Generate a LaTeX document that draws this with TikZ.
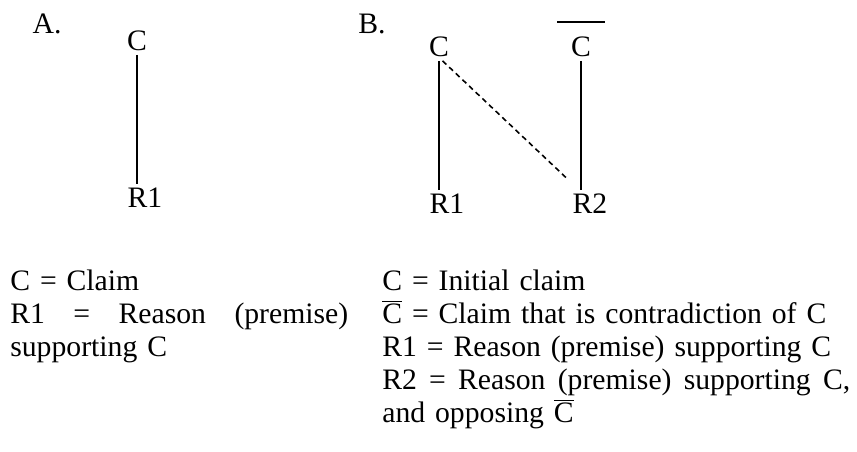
\documentclass[tikz,border=0pt]{standalone}
\usepackage{fontspec}
\setmainfont{Liberation Serif}[WordSpace=0.8]
\usetikzlibrary{positioning}

\newcommand{\cbar}{$\overline{\hbox{C}}$}

\begin{document}
\begin{tikzpicture}[x=0.02cm, y=-0.02cm,
  every node/.style={font=\fontsize{16.9}{18.9}\selectfont, inner sep=2pt},
  link/.style={line width=0.9pt},
  dashlink/.style={line width=0.9pt, dash pattern=on 3pt off 2.2pt},
  keytext/.style={anchor=base west, inner sep=0pt, align=left}]
\useasboundingbox (0,0) rectangle (857,452);
% A: one claim, one reason
\node (labA) at (47,24) {A.};
\node (cA) at (137,41) {C};
\node (rA1) at (145,198) {R1};
\draw[link] (cA.south) -- (cA.south |- rA1.north);
% B: claim, its contradiction, two reasons
\node (labB) at (372,24) {B.};
\node (cB) at (439,47) {C};
\node (cbB) at (581,47) {C};
\node (rB1) at (447,204) {R1};
\node (rB2) at (590,204) {R2};
\draw[link] ([shift={(-24,-11)}]cbB.north) -- ([shift={(24,-11)}]cbB.north);
\draw[link] (cB.south) -- (cB.south |- rB1.north);
\draw[link] (cbB.south) -- (cbB.south |- rB2.north);
\draw[dashlink] ([xshift=2pt]cB.south) -- ([shift={(-1,-11)}]rB2.north west);
% keys under the diagrams
\node[keytext, text width=6.76cm] (keyA) at (10,290) {C = Claim\\
  \leavevmode\hbox to 6.76cm{R1\hfill=\hfill Reason\hfill(premise)}\\
  supporting C};
\node[keytext, text width=9.5cm] (keyB) at (382,290) {C = Initial claim\\
  \cbar{} = Claim that is contradiction of C\\
  R1 = Reason (premise) supporting C\\
  \leavevmode\hbox to 9.36cm{R2\hfill=\hfill Reason\hfill(premise)\hfill supporting\hfill C,}\\
  and opposing \cbar};
\end{tikzpicture}
\end{document}
